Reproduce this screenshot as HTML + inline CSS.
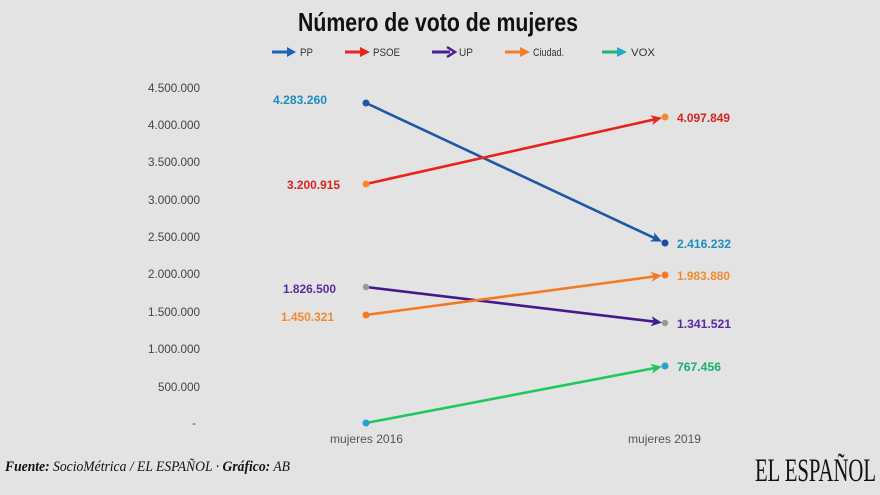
<!DOCTYPE html>
<html><head><meta charset="utf-8"><style>
html,body{margin:0;padding:0;background:#e3e3e3;}
svg{display:block;}
</style></head><body>
<svg width="880" height="495" viewBox="0 0 880 495" xmlns="http://www.w3.org/2000/svg">
<rect width="880" height="495" fill="#e3e3e3"/>
<!-- title -->
<text x="298" y="31" font-family="Liberation Sans, sans-serif" font-weight="bold" font-size="26" fill="#111" textLength="280" lengthAdjust="spacingAndGlyphs">Número de voto de mujeres</text>
<!-- legend -->
<g font-family="Liberation Sans, sans-serif" font-size="11" fill="#333">
  <line x1="272" y1="52" x2="292" y2="52" stroke="#1d63b8" stroke-width="3"/><polygon points="287,47 296,52 287,57" fill="#1d63b8"/>
  <text x="300" y="56" textLength="13" lengthAdjust="spacingAndGlyphs">PP</text>
  <line x1="345" y1="52" x2="365" y2="52" stroke="#e8281c" stroke-width="3"/><polygon points="360,47 370,52 360,57" fill="#e8281c"/>
  <text x="373" y="56" textLength="27" lengthAdjust="spacingAndGlyphs">PSOE</text>
  <line x1="432" y1="52" x2="450" y2="52" stroke="#4a2090" stroke-width="3"/><polyline points="447,47 455,52 447,57" fill="none" stroke="#4a2090" stroke-width="2.5"/>
  <text x="459" y="56" textLength="14" lengthAdjust="spacingAndGlyphs">UP</text>
  <line x1="505" y1="52" x2="525" y2="52" stroke="#f47f2a" stroke-width="3"/><polygon points="520,47 530,52 520,57" fill="#f47f2a"/>
  <text x="533" y="56" textLength="31" lengthAdjust="spacingAndGlyphs">Ciudad.</text>
  <line x1="602" y1="52" x2="622" y2="52" stroke="#1fb86a" stroke-width="3"/><polygon points="617,47 627,52 617,57" fill="#22aacc"/>
  <text x="631" y="56" textLength="24" lengthAdjust="spacingAndGlyphs">VOX</text>
</g>
<!-- y axis labels -->
<g font-family="Liberation Sans, sans-serif" font-size="12" fill="#444" text-anchor="end">
  <text x="200" y="92" textLength="52" lengthAdjust="spacingAndGlyphs">4.500.000</text>
  <text x="200" y="129" textLength="52" lengthAdjust="spacingAndGlyphs">4.000.000</text>
  <text x="200" y="166" textLength="52" lengthAdjust="spacingAndGlyphs">3.500.000</text>
  <text x="200" y="204" textLength="52" lengthAdjust="spacingAndGlyphs">3.000.000</text>
  <text x="200" y="241" textLength="52" lengthAdjust="spacingAndGlyphs">2.500.000</text>
  <text x="200" y="278" textLength="52" lengthAdjust="spacingAndGlyphs">2.000.000</text>
  <text x="200" y="316" textLength="52" lengthAdjust="spacingAndGlyphs">1.500.000</text>
  <text x="200" y="353" textLength="52" lengthAdjust="spacingAndGlyphs">1.000.000</text>
  <text x="200" y="391" textLength="42" lengthAdjust="spacingAndGlyphs">500.000</text>
  <text x="196" y="427">-</text>
</g>
<!-- x labels -->
<g font-family="Liberation Sans, sans-serif" font-size="12" fill="#555">
  <text x="330" y="443" textLength="73" lengthAdjust="spacingAndGlyphs">mujeres 2016</text>
  <text x="628" y="443" textLength="73" lengthAdjust="spacingAndGlyphs">mujeres 2019</text>
</g>
<!-- series lines -->
<g stroke-width="2.6" stroke-linecap="round" fill="none">
  <line x1="366" y1="103" x2="658" y2="239.7" stroke="#1d57a8"/>
  <line x1="366" y1="184" x2="658" y2="118.6" stroke="#e8231a"/>
  <line x1="366" y1="287" x2="658" y2="322.1" stroke="#46198a"/>
  <line x1="366" y1="315" x2="658" y2="276" stroke="#f47a22"/>
  <line x1="366" y1="423" x2="658" y2="367.4" stroke="#1ec85e"/>
</g>
<!-- dots -->
<g>
  <circle cx="366" cy="103" r="3.5" fill="#1d57a8"/>
  <circle cx="366" cy="184" r="3.5" fill="#f48a30"/>
  <circle cx="366" cy="287" r="3.2" fill="#999"/>
  <circle cx="366" cy="315" r="3.5" fill="#f47a22"/>
  <circle cx="366" cy="423" r="3.5" fill="#2a9fd0"/>
  <circle cx="665" cy="117" r="3.5" fill="#f48a30"/>
  <circle cx="665" cy="243" r="3.5" fill="#1d4aa8"/>
  <circle cx="665" cy="275" r="3.5" fill="#f47a22"/>
  <circle cx="665" cy="323" r="3.2" fill="#999"/>
  <circle cx="665" cy="366" r="3.5" fill="#2a9fd0"/>
</g>
<!-- arrowheads -->
<g stroke-linejoin="miter">
  <polygon points="654.1,232.4 662,241.6 649.9,241.4 654.5,238.2" fill="#1d57a8"/>
  <polygon points="650.2,115.2 662,117.7 652.4,125.0 654.2,119.4" fill="#e8231a"/>
  <polygon points="651.7,316.3 662,322.6 650.5,326.3 654.1,321.7" fill="#46198a"/>
  <polygon points="650.4,271.9 662,275.4 651.8,281.9 654.1,276.5" fill="#f47a22"/>
  <polygon points="650.3,363.8 662,366.6 652.1,373.6 654.1,368.1" fill="#1ec85e"/>
</g>
<!-- value labels -->
<g font-family="Liberation Sans, sans-serif" font-size="12" font-weight="bold">
  <text x="273" y="104" fill="#1e8cc0" textLength="54" lengthAdjust="spacingAndGlyphs">4.283.260</text>
  <text x="287" y="189" fill="#d82420" textLength="53" lengthAdjust="spacingAndGlyphs">3.200.915</text>
  <text x="283" y="293" fill="#5a2aa0" textLength="53" lengthAdjust="spacingAndGlyphs">1.826.500</text>
  <text x="281" y="321" fill="#f48a30" textLength="53" lengthAdjust="spacingAndGlyphs">1.450.321</text>
  <text x="677" y="122" fill="#d82420" textLength="53" lengthAdjust="spacingAndGlyphs">4.097.849</text>
  <text x="677" y="248" fill="#1e8cc0" textLength="54" lengthAdjust="spacingAndGlyphs">2.416.232</text>
  <text x="677" y="280" fill="#f48a30" textLength="53" lengthAdjust="spacingAndGlyphs">1.983.880</text>
  <text x="677" y="328" fill="#5a2aa0" textLength="54" lengthAdjust="spacingAndGlyphs">1.341.521</text>
  <text x="677" y="371" fill="#16b070" textLength="44" lengthAdjust="spacingAndGlyphs">767.456</text>
</g>
<!-- footer -->
<text x="5" y="471" font-family="Liberation Serif, serif" font-style="italic" font-size="15" fill="#111" textLength="285" lengthAdjust="spacingAndGlyphs"><tspan font-weight="bold">Fuente:</tspan> SocioMétrica / EL ESPAÑOL · <tspan font-weight="bold">Gráfico:</tspan> AB</text>
<text x="755" y="481" font-family="Liberation Serif, serif" font-size="33" fill="#111" textLength="121" lengthAdjust="spacingAndGlyphs">EL ESPAÑOL</text>
</svg>
</body></html>
